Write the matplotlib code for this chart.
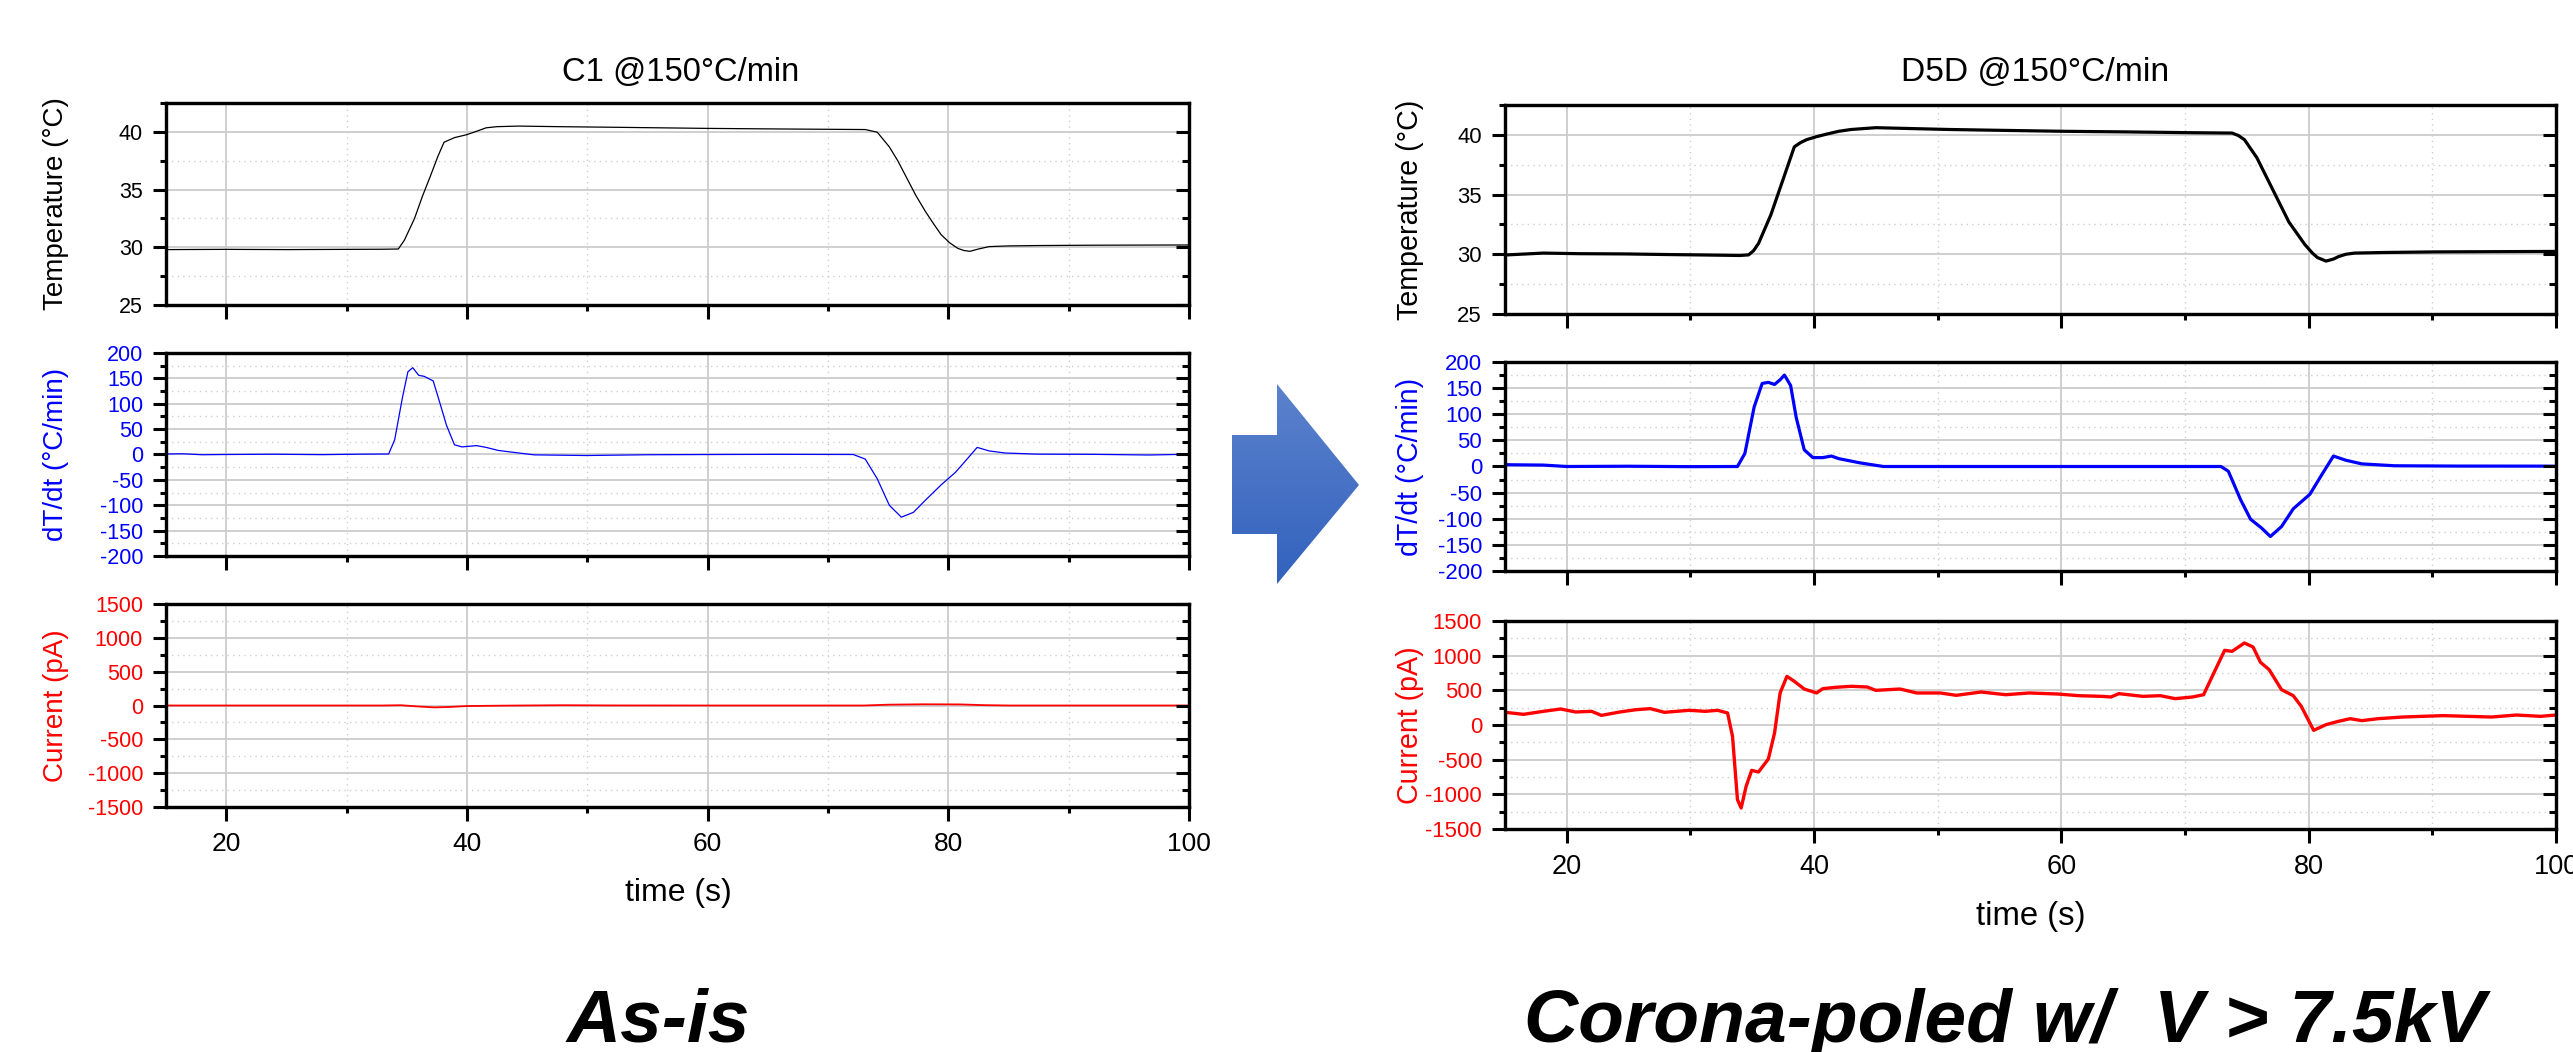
import numpy as np
import matplotlib
matplotlib.use("Agg")
import matplotlib.pyplot as plt
from matplotlib.ticker import MultipleLocator
from matplotlib.patches import Polygon
from matplotlib.colors import LinearSegmentedColormap

plt.rcParams['font.family'] = ['Liberation Sans', 'DejaVu Sans']
plt.rcParams['axes.unicode_minus'] = False

# ---------------- data ----------------
left_title = "C1 @150°C/min"
right_title = "D5D @150°C/min"
left_caption = "As-is"
right_caption = "Corona-poled w/  V > 7.5kV"

# Left (C1) temperature
lT_x = [15, 20, 25, 30, 33, 34.3, 34.8, 35.65, 36.3, 36.98, 37.6, 38.1, 38.97, 39.97, 40.8, 41.6, 42.5,
        44.3, 47.6, 52, 60, 66, 73.1, 74.1, 75.1, 75.8, 76.45, 77.3, 78.1, 78.8, 79.4, 80.1, 80.8, 81.3,
        81.8, 82.5, 83.4, 85, 87.4, 92, 100]
lT_y = [29.8, 29.82, 29.8, 29.82, 29.83, 29.85, 30.6, 32.5, 34.4, 36.2, 37.9, 39.1, 39.5, 39.75, 40.05,
        40.35, 40.45, 40.5, 40.45, 40.4, 40.3, 40.25, 40.2, 39.97, 38.7, 37.5, 36.2, 34.5, 33.1, 32.0,
        31.1, 30.4, 29.9, 29.72, 29.65, 29.85, 30.06, 30.12, 30.15, 30.18, 30.2]

# Left dT/dt
ld_x = [15, 16.4, 18, 20, 24, 28, 31, 33.5, 34.0, 34.66, 35.1, 35.5, 36.0, 36.45, 37.2, 37.6, 38.3,
        38.97, 39.6, 40.8, 41.6, 42.6, 44.3, 45.6, 49.9, 55, 60.9, 66, 72.1, 73.1, 74.1, 75.1, 76.1,
        77.1, 78.1, 79.4, 80.6, 81.56, 82.4, 83.4, 84.7, 87.4, 92, 96.7, 100]
ld_y = [1, 1.4, -0.5, 0, 0.5, -0.3, 0.6, 1, 29, 114, 163, 171, 156, 154, 145, 114, 58, 19, 15, 17.5,
        14, 8, 3, -0.7, -2, -0.5, 0, 0.3, 0, -9, -48, -100, -123.5, -114, -90, -60, -35, -9, 14, 7,
        3, 0.7, 0.3, -1, 0.5]

# Left current
lI_x = [15, 25, 33, 34.5, 36, 37.3, 38.5, 40, 43, 48, 52, 60, 73, 75, 78, 81, 83, 85, 100]
lI_y = [0, 0, 0, 4, -15, -28, -22, -8, -2, 4, 1, 0, 0, 12, 18, 16, 5, 0, 0]

# Right (D5D) temperature
rT_x = [15, 18.1, 21, 24.7, 28, 31.2, 34.0, 34.7, 35.1, 35.5, 36.5, 37.4, 38.0, 38.4, 38.9, 39.4, 40.2,
        41.0, 42.0, 43.0, 45.0, 50.9, 55, 60, 65, 70.6, 73.8, 74.3, 74.8, 75.8, 77.1, 78.4, 79.7, 80.3,
        80.7, 81.4, 82.0, 82.4, 83.0, 83.7, 86, 90.2, 95, 100]
rT_y = [29.94, 30.1, 30.05, 30.03, 29.98, 29.94, 29.9, 29.95, 30.3, 30.9, 33.3, 36.0, 37.8, 39.0, 39.35,
        39.6, 39.85, 40.06, 40.3, 40.45, 40.6, 40.45, 40.38, 40.3, 40.25, 40.18, 40.15, 39.95, 39.6,
        38.1, 35.4, 32.7, 30.8, 30.1, 29.73, 29.43, 29.6, 29.8, 30.0, 30.1, 30.15, 30.2, 30.22, 30.24]

# Right dT/dt
rd_x = [15, 18.1, 20, 25, 30, 33.8, 34.4, 35.15, 35.8, 36.3, 36.8, 37.25, 37.6, 38.1, 38.55, 39.2,
        39.9, 40.7, 41.4, 42.0, 43.7, 45.6, 50, 60, 70, 72.9, 73.5, 74.5, 75.3, 76.2, 76.9, 77.8,
        78.75, 80.1, 81.05, 82.0, 83.0, 84.3, 86.95, 92, 98.75, 100]
rd_y = [3.4, 2.7, 0, 0.5, -0.3, 0, 25, 114, 159, 161, 157, 166, 175, 155, 94, 32, 17, 17, 20, 15, 7,
        0, 0, 0, 0, 0, -9, -64, -101, -118, -134, -115, -81, -53, -16, 20, 12, 5, 1.4, 0.8, 0.7, 0.5]

# Right current
rI_x = [15, 16.5, 18.1, 19.5, 20.7, 22.0, 22.8, 24.3, 25.6, 26.75, 27.9, 29.9, 31.2, 32.2, 33.0, 33.4,
        33.8, 34.1, 34.5, 34.95, 35.5, 36.3, 36.8, 37.25, 37.8, 38.4, 39.2, 40.2, 40.7, 41.7, 43.0,
        44.3, 44.98, 46.95, 48.3, 50.2, 51.5, 53.5, 55.5, 57.4, 59.7, 61.4, 63.3, 64.0, 64.65, 66.6,
        68.0, 69.2, 70.6, 71.5, 72.2, 73.2, 73.8, 74.8, 75.5, 76.1, 76.8, 77.8, 78.75, 79.4, 80.4,
        81.4, 82.4, 83.35, 84.3, 85.6, 87.6, 89.2, 90.9, 92.9, 94.8, 96.8, 98.75, 100]
rI_y = [183, 154, 197, 231, 188, 197, 139, 188, 221, 236, 183, 212, 197, 212, 173, -163, -1077, -1197,
        -885, -654, -678, -490, -115, 462, 702, 630, 519, 462, 524, 543, 558, 548, 500, 519, 462, 462,
        428, 476, 437, 462, 447, 423, 413, 404, 452, 413, 423, 380, 404, 437, 702, 1077, 1062, 1183,
        1125, 904, 798, 510, 423, 269, -77, 5, 53, 91, 63, 91, 115, 125, 135, 125, 115, 144, 125, 144]

xlim = (15, 100)
T_lim = (25, 42.5)
d_lim = (-200, 200)
I_lim = (-1500, 1500)

W, H = 2573, 1052
fig = plt.figure(figsize=(W / 100, H / 100), dpi=100)


def add_ax(l, r, t, b):
    return fig.add_axes([l / W, 1 - b / H, (r - l) / W, (b - t) / H])


def style(ax, ylim, ymaj, ymin, color, show_x, fs):
    ax.set_xlim(*xlim)
    ax.set_ylim(*ylim)
    ax.xaxis.set_major_locator(MultipleLocator(20))
    ax.xaxis.set_minor_locator(MultipleLocator(10))
    ax.yaxis.set_major_locator(MultipleLocator(ymaj))
    ax.yaxis.set_minor_locator(MultipleLocator(ymin))
    ax.set_axisbelow(True)
    ax.grid(which='major', color='#cccccc', lw=1.3, ls='-')
    ax.grid(which='minor', color='#cfcfcf', lw=1.0, ls=(0, (1, 3)))
    for s in ax.spines.values():
        s.set_linewidth(2.3)
    twin = ax.twinx()
    twin.set_ylim(*ylim)
    twin.yaxis.set_major_locator(MultipleLocator(ymaj))
    twin.yaxis.set_minor_locator(MultipleLocator(ymin))
    twin.tick_params(axis='y', which='major', direction='in', length=9.5, width=2.2,
                     right=True, left=False, labelright=False)
    twin.tick_params(axis='y', which='minor', direction='in', length=4.8, width=2.2,
                     right=True, left=False, labelright=False)
    for s in twin.spines.values():
        s.set_linewidth(2.3)
    ax.tick_params(axis='y', which='major', direction='out', length=9.5, width=2.2,
                   left=True, right=False, labelsize=15.5 * fs, labelcolor=color, pad=7)
    ax.tick_params(axis='y', which='minor', direction='out', length=4.5, width=2.2,
                   left=True, right=False)
    ax.tick_params(axis='x', which='major', direction='out', length=10, width=2.2,
                   top=False, bottom=True, labelbottom=show_x, labelsize=19 * fs, pad=8)
    ax.tick_params(axis='x', which='minor', direction='out', length=4.5, width=2.2,
                   top=False, bottom=True)


panels = [
    dict(l=166, r=1189, rows=[(103, 305), (353, 556), (604, 807)], lw=0.9, lwI=1.3, fs=1.0,
         T=(lT_x, lT_y), d=(ld_x, ld_y), I=(lI_x, lI_y), title=left_title, tx=681, ty=72,
         ylx=56, xl=(678, 893), cap=left_caption, capx=658),
    dict(l=1505, r=2556, rows=[(105, 314), (362, 571), (621, 829)], lw=2.3, lwI=2.4, fs=1.03,
         T=(rT_x, rT_y), d=(rd_x, rd_y), I=(rI_x, rI_y), title=right_title, tx=2035, ty=73,
         ylx=1410, xl=(2031, 917), cap=right_caption, capx=2005),
]

for p in panels:
    fs = p['fs']
    (t1, b1), (t2, b2), (t3, b3) = p['rows']
    axT = add_ax(p['l'], p['r'], t1, b1)
    axd = add_ax(p['l'], p['r'], t2, b2)
    axI = add_ax(p['l'], p['r'], t3, b3)
    style(axT, T_lim, 5, 2.5, 'black', False, fs)
    style(axd, d_lim, 50, 25, 'blue', False, fs)
    style(axI, I_lim, 500, 250, 'red', True, fs)
    axT.plot(*p['T'], color='black', lw=p['lw'], solid_joinstyle='round')
    axd.plot(*p['d'], color='blue', lw=p['lw'], solid_joinstyle='round')
    axI.plot(*p['I'], color='red', lw=p['lwI'], solid_joinstyle='round')
    for (t, b), lab, c in zip(p['rows'], ["Temperature (°C)", "dT/dt (°C/min)", "Current (pA)"],
                              ['black', 'blue', 'red']):
        fig.text(p['ylx'] / W, 1 - (t + b) / 2 / H, lab, rotation=90, ha='center', va='center',
                 fontsize=20 * fs, color=c)
    fig.text(p['tx'] / W, 1 - p['ty'] / H, p['title'], ha='center', va='center', fontsize=23.5 * fs)
    fig.text(p['xl'][0] / W, 1 - p['xl'][1] / H, "time (s)", ha='center', va='center',
             fontsize=23 * fs)
    fig.text(p['capx'] / W, 1 - 1042 / H, p['cap'], ha='center', va='baseline', fontsize=54,
             fontweight='bold', fontstyle='italic')

# Arrow with gradient
ax_arr = fig.add_axes([1225 / W, 1 - 590 / H, 140 / W, 212 / H])
ax_arr.set_xlim(1225, 1365)
ax_arr.set_ylim(590, 378)
ax_arr.axis('off')
grad = np.linspace(0, 1, 256).reshape(-1, 1)
cmap = LinearSegmentedColormap.from_list('arr', ['#5d83cd', '#3161bd'])
im = ax_arr.imshow(grad, extent=(1225, 1365, 590, 378), cmap=cmap, aspect='auto')
poly = Polygon([(1232, 435), (1277, 435), (1277, 384), (1359, 485), (1277, 584), (1277, 534),
                (1232, 534)], closed=True, transform=ax_arr.transData, facecolor='none',
               edgecolor='none')
ax_arr.add_patch(poly)
im.set_clip_path(poly)
ax_arr.set_ylim(590, 378)

fig.savefig("out.png", dpi=100)
